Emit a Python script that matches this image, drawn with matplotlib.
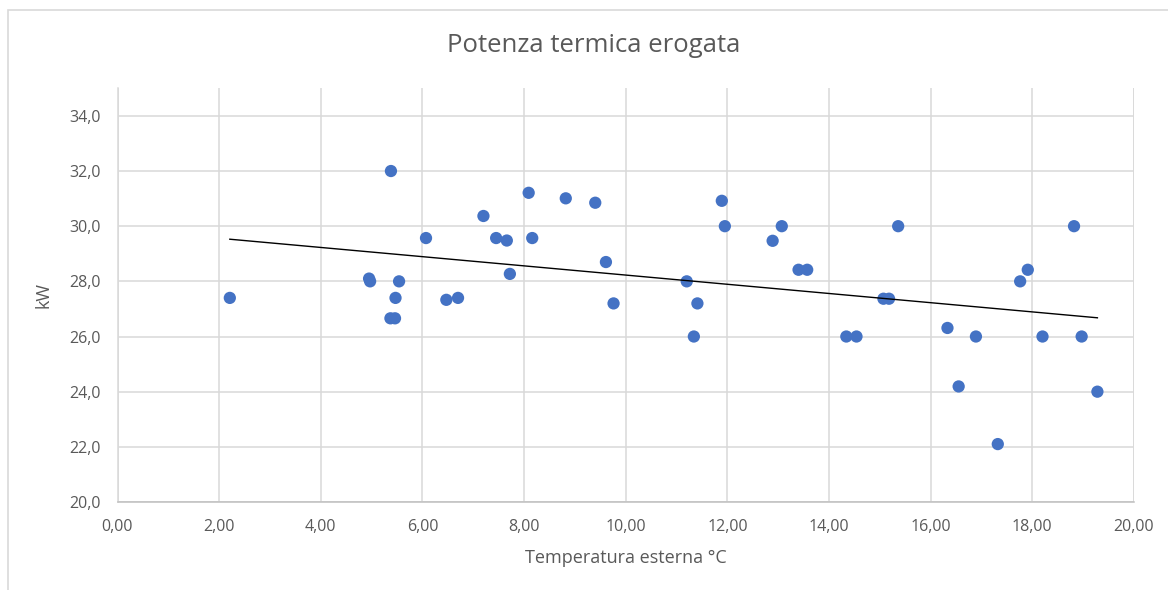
import numpy as np
import matplotlib
matplotlib.use("Agg")
import matplotlib.pyplot as plt
from matplotlib.patches import Rectangle

# Outside temperature (°C) and delivered thermal power (kW)
temperatura = [2.21, 4.95, 4.97, 5.38, 5.37, 5.46, 5.47, 5.54, 6.07, 6.47,
               6.70, 7.20, 7.45, 7.66, 7.72, 8.09, 8.16, 8.82, 9.40, 9.61,
               9.76, 11.20, 11.34, 11.41, 11.89, 11.95, 12.89, 13.07, 13.40, 13.57,
               14.34, 14.54, 15.07, 15.18, 15.36, 16.33, 16.55, 16.89, 17.32, 17.76,
               17.91, 18.20, 18.82, 18.97, 19.28]
potenza = [27.4, 28.1, 28.0, 32.0, 26.66, 26.66, 27.4, 28.0, 29.57, 27.33,
           27.4, 30.37, 29.57, 29.48, 28.27, 31.21, 29.57, 31.01, 30.85, 28.70,
           27.2, 28.0, 26.0, 27.2, 30.92, 30.0, 29.47, 30.0, 28.42, 28.42,
           26.0, 26.0, 27.37, 27.37, 30.0, 26.31, 24.19, 26.0, 22.1, 28.0,
           28.42, 26.0, 30.0, 26.0, 24.0]

x_ticks = [0, 2, 4, 6, 8, 10, 12, 14, 16, 18, 20]
x_tick_labels = ["0,00", "2,00", "4,00", "6,00", "8,00", "10,00",
                 "12,00", "14,00", "16,00", "18,00", "20,00"]
y_ticks = [20, 22, 24, 26, 28, 30, 32, 34]
y_tick_labels = ["20,0", "22,0", "24,0", "26,0", "28,0", "30,0", "32,0", "34,0"]

plt.rcParams["font.family"] = ["Open Sans", "DejaVu Sans"]
TEXT = "#595959"
GRID = "#d9d9d9"

fig = plt.figure(figsize=(11.68, 5.90), dpi=100)
W, H = 1168, 590

# chart frame
fig.patches.append(Rectangle((7.5 / W, -0.1), 1.2, (590 - 9.5) / H + 0.1,
                             transform=fig.transFigure, fill=False,
                             edgecolor=GRID, linewidth=1.2))

ax = fig.add_axes([117.5 / W, (H - 502) / H, (1134 - 117.5) / W, (502 - 88) / H])

ax.set_xlim(0, 20)
ax.set_ylim(20, 35.01)
ax.set_xticks(x_ticks)
ax.set_xticklabels(x_tick_labels)
ax.set_yticks(y_ticks)
ax.set_yticklabels(y_tick_labels)
ax.tick_params(length=0, labelsize=11.5, labelcolor=TEXT, pad=12)

ax.grid(True, color=GRID, linewidth=1.1)
ax.set_axisbelow(True)
for side in ("top", "right"):
    ax.spines[side].set_visible(False)
ax.spines["left"].set_color(GRID)
ax.spines["bottom"].set_color("#bfbfbf")
ax.spines["left"].set_linewidth(1.1)
ax.spines["bottom"].set_linewidth(1.1)

# right-hand vertical gridline at 20 spans the full height
ax.axvline(20, color=GRID, linewidth=1.1, zorder=0.5)

ax.scatter(temperatura, potenza, s=78, color="#4472c4", edgecolors="none", zorder=3)

# linear trendline over the data range
t = np.array(temperatura)
coef = np.polyfit(t, np.array(potenza), 1)
xs = np.array([t.min(), t.max()])
ax.plot(xs, np.polyval(coef, xs), color="black", linewidth=1.0, zorder=4)

ax.set_xlabel("Temperatura esterna °C", fontsize=13, color=TEXT, labelpad=10)
ax.set_ylabel("kW", fontsize=13, color=TEXT, labelpad=12)
fig.text(594 / W, 1 - 45 / H, "Potenza termica erogata", ha="center", va="center",
         fontsize=18.5, color=TEXT)

fig.savefig("out.png", dpi=100)
